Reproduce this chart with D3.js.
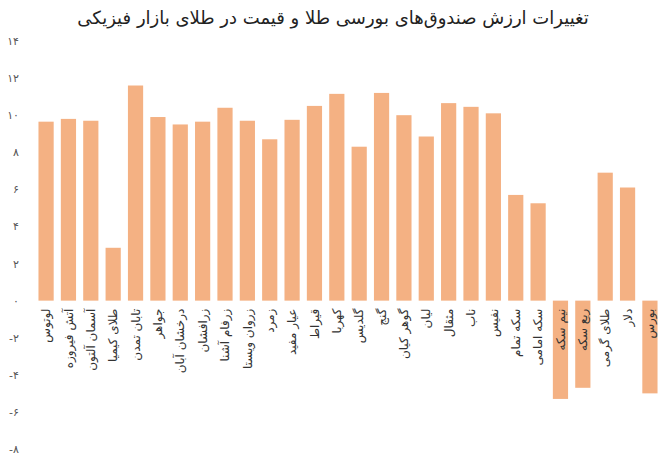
<!DOCTYPE html>
<html><head><meta charset="utf-8">
<script src="https://cdn.jsdelivr.net/npm/d3@7"></script>
<style>body{margin:0;background:#fff}svg{font-family:"DejaVu Sans",sans-serif}</style>
</head><body><svg id="c" width="666" height="474"></svg>
<script>
const categories=["لوتوس","آتش فیروزه","آسمان آلتون","طلای کیمیا","تابان تمدن","جواهر","درخشان آبان","زرافشان","زرفام آشنا","زروان ویستا","زمرد","عیار مفید","قیراط","کهربا","گلدیس","گنج","گوهر کیان","لیان","مثقال","ناب","نفیس","سکه تمام","سکه امامی","نیم سکه","ربع سکه","طلای گرمی","دلار","بورس"];
const values=[9.65,9.8,9.7,2.85,11.6,9.9,9.5,9.65,10.4,9.7,8.7,9.75,10.5,11.15,8.3,11.2,10.0,8.85,10.65,10.45,10.1,5.7,5.25,-5.3,-4.7,6.9,6.1,-5.0];
const tickValues=[-8,-6,-4,-2,0,2,4,6,8,10,12,14];
const title="تغییرات ارزش صندوق‌های بورسی طلا و قیمت در طلای بازار فیزیکی";
const fa=n=>String(Math.abs(n)).replace(/\d/g,d=>"۰۱۲۳۴۵۶۷۸۹"[d]);
const svg=d3.select("#c");
const y=d3.scaleLinear().domain([-8,14]).range([449,41]);
const x=d3.scaleBand().domain(categories).range([34,662]).paddingInner(0.32).paddingOuter(0.2);
svg.append("text").attr("x",333).attr("y",24).attr("text-anchor","middle").attr("font-size",18).attr("fill","#222").text(title);
const ax=svg.append("g").attr("transform","translate(22,0)").call(d3.axisLeft(y).tickValues(tickValues).tickSize(0).tickFormat(d=>d<0?"-"+fa(d):fa(d)));
ax.select(".domain").remove();
ax.selectAll("text").attr("font-size",11).attr("fill","#555").attr("font-family","DejaVu Sans");
svg.selectAll("rect.b").data(values).join("rect").attr("class","b")
 .attr("x",(d,i)=>x(categories[i])).attr("width",x.bandwidth())
 .attr("y",d=>y(Math.max(0,d))).attr("height",d=>Math.abs(y(d)-y(0)))
 .attr("fill","#F4B183");
svg.selectAll("text.l").data(categories).join("text").attr("class","l")
 .attr("transform",d=>`translate(${x(d)+x.bandwidth()/2},${y(0)+8}) rotate(-90)`)
 .attr("text-anchor","end").attr("dy","0.35em").attr("font-size",12).attr("fill","#333").text(d=>d);
</script></body></html>
